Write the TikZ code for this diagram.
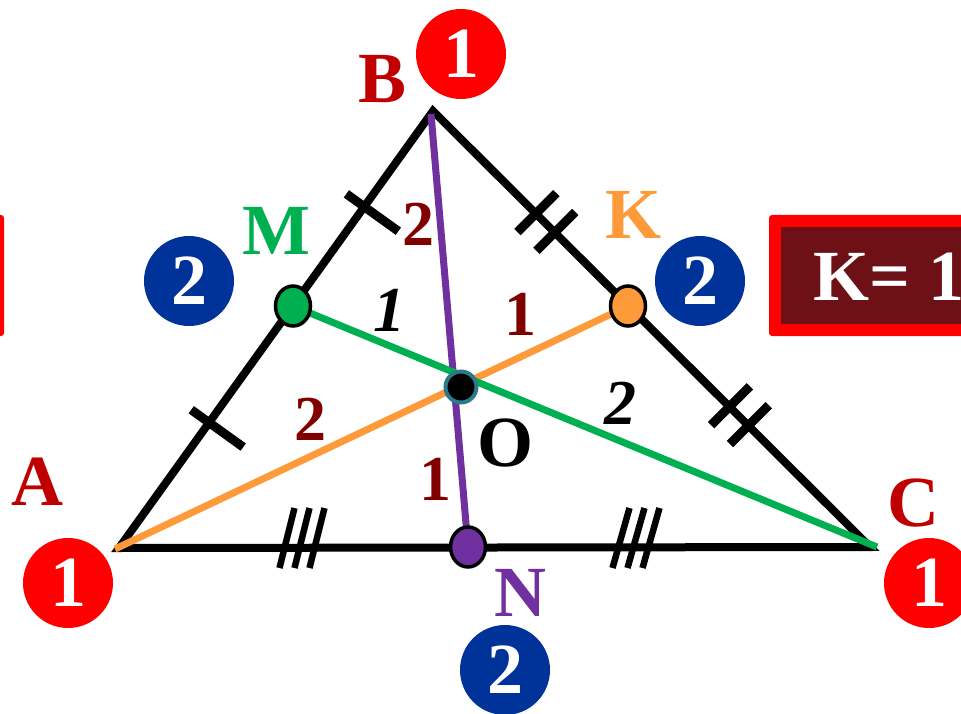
\documentclass[tikz,border=0pt]{standalone}
\usepackage{fontspec}
\setmainfont{Liberation Serif}
\usetikzlibrary{calc,shapes.geometric}
\definecolor{ballred}{HTML}{FF0000}
\definecolor{ballblue}{HTML}{003399}
\definecolor{vred}{HTML}{C00000}
\definecolor{maroonc}{HTML}{800000}
\definecolor{greenc}{HTML}{00B050}
\definecolor{orangec}{HTML}{FF9A3A}
\definecolor{purplec}{HTML}{7030A0}
\definecolor{boxfill}{HTML}{6D1117}
\definecolor{tealc}{HTML}{2B7A8A}
\begin{document}
\begin{tikzpicture}[x=1pt,y=-1pt,
  side/.style={line width=8pt,black,line join=miter},
  med/.style={line width=7pt},
  tickmark/.style={line width=9pt,black},
  tripletick/.style={line width=6.5pt,black},
  redball/.style={circle,fill=ballred,minimum size=90pt,inner sep=0pt,text=white,font=\bfseries\fontsize{72}{72}\selectfont},
  blueball/.style={circle,fill=ballblue,minimum size=90pt,inner sep=0pt,text=white,font=\bfseries\fontsize{72}{72}\selectfont},
  vlabel/.style={inner sep=0pt,font=\bfseries\fontsize{72}{72}\selectfont},
  numlab/.style={inner sep=0pt,text=maroonc,font=\bfseries\fontsize{64}{64}\selectfont},
  itlab/.style={inner sep=0pt,text=black,font=\bfseries\itshape\fontsize{64}{64}\selectfont},
  midpt/.style={ellipse,draw=black,line width=3.5pt,minimum width=35pt,minimum height=40pt,inner sep=0pt}
]
\useasboundingbox (0,0) rectangle (961,714);
\clip (0,0) rectangle (961,714);

% boxes at the sides
\fill[ballred,rounded corners=3pt] (-300,215) rectangle (4,336);
\fill[boxfill] (-300,227) rectangle (-8,324);
\fill[ballred,rounded corners=3pt] (769,215) rectangle (1100,336);
\fill[boxfill] (781,227) rectangle (1100,324);
\node[anchor=base west,inner sep=0pt,text=white,font=\bfseries\fontsize{72}{72}\selectfont] (kbox) at (813,300) {K= 1};

% points
\coordinate (A) at (119,548);
\coordinate (B) at (433,111);
\coordinate (C) at (870,547);
\coordinate (Ce) at (877,547);
\coordinate (Ae) at (115,549);
\coordinate (M) at (293,306);
\coordinate (K) at (628,306);
\coordinate (N) at (468,547);
\coordinate (O) at (461,387);
\coordinate (Bp) at (431,114);

% triangle
\draw[side] (A) -- (B) -- (C) -- cycle;

% single ticks on AB
\foreach \t in {0.287,0.781}{
  \coordinate (tc) at ($(A)!\t!(B)$);
  \draw[tickmark] ($(tc)!22pt!90:(B)$) -- ($(tc)!42pt!-90:(B)$);
}
% double ticks on BC
\foreach \t in {0.257,0.70}{
  \foreach \d in {-0.0216,0.0216}{
    \coordinate (tc) at ($(B)!\t+\d!(C)$);
    \draw[tickmark] ($(tc)!29pt!90:(C)$) -- ($(tc)!26pt!-90:(C)$);
  }
}
% triple ticks on AC
\coordinate (T1) at (302,538);
\coordinate (T2) at (636,538);
\foreach \dx in {-15,0,15}{
  \draw[tripletick] ($(T1)+(\dx+7.5,-30)$) -- ($(T1)+(\dx-7.5,30)$);
  \draw[tripletick] ($(T2)+(\dx+8.5,-30)$) -- ($(T2)+(\dx-8.5,30)$);
}

% medians
\draw[med,purplec] (Bp) -- (N);
\draw[med,orangec] (Ae) -- (K);
\draw[med,greenc] (M) -- (Ce);

% point markers
\node[midpt,fill=greenc] (Mp) at (M) {};
\node[midpt,fill=orangec] (Kp) at (K) {};
\node[midpt,fill=purplec] (Np) at (N) {};
\node[circle,fill=black,draw=tealc,line width=4pt,minimum size=31pt,inner sep=0pt] (Op) at (O) {};

% vertex labels
\node[vlabel,text=vred] (lB) at (383,79) {B};
\node[vlabel,text=vred] (lA) at (37,482) {A};
\node[vlabel,text=vred] (lC) at (913,503) {C};
\node[vlabel,text=greenc] (lM) at (276,231) {M};
\node[vlabel,text=orangec] (lK) at (633,215) {K};
\node[vlabel,text=purplec] (lN) at (520,593) {N};
\node[vlabel,text=black] (lO) at (505,443) {O};

% balls
\node[redball] (rB) at (461,54) {1};
\node[redball] (rA) at (68,583) {1};
\node[redball] (rC) at (929,583) {1};
\node[blueball] (bM) at (189,281) {2};
\node[blueball] (bK) at (700,281) {2};
\node[blueball] (bN) at (505,670) {2};

% ratio labels
\node[numlab] (n1) at (418,224) {2};
\node[itlab] (n2) at (389,310) {1};
\node[numlab] (n3) at (520,314) {1};
\node[numlab] (n4) at (310,419) {2};
\node[numlab] (n5) at (435,479) {1};
\node[itlab] (n6) at (620,403) {2};
\end{tikzpicture}
\end{document}
